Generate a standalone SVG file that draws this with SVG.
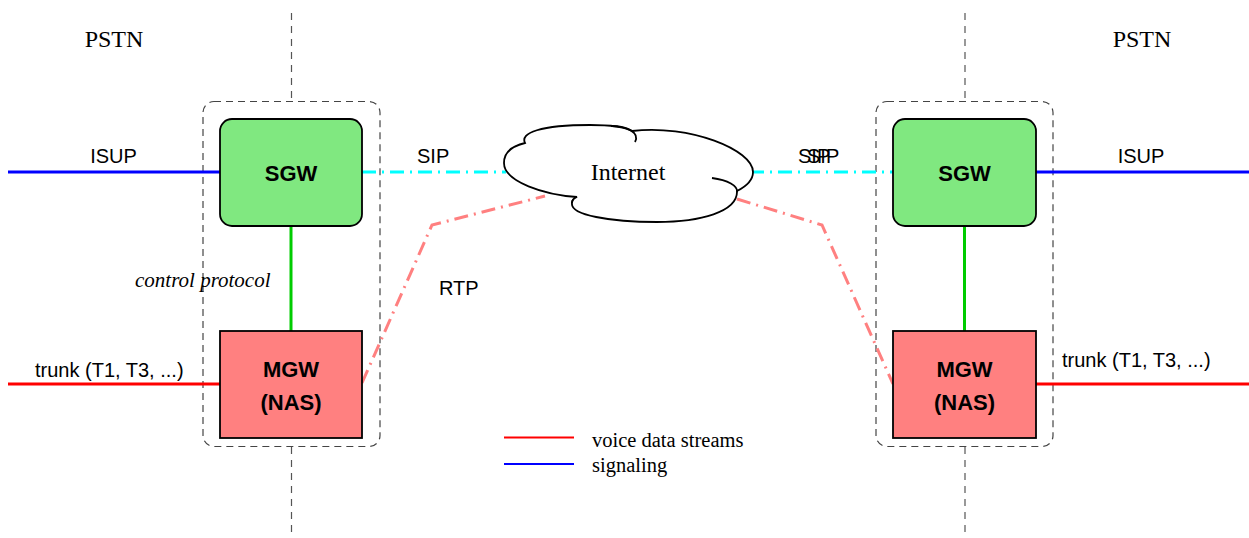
<svg xmlns="http://www.w3.org/2000/svg" width="1249" height="538" viewBox="0 0 1249 538">
<style>
.serif{font-family:"Liberation Serif","Times New Roman",serif;fill:#000}
.sans{font-family:"Liberation Sans",Arial,sans-serif;fill:#000}
.bold{font-family:"Liberation Sans",Arial,sans-serif;font-weight:bold;font-size:22px;fill:#000;text-anchor:middle}
.vdash{stroke:#555;stroke-width:1.2;stroke-dasharray:7,6;fill:none}
.box{stroke:#444;stroke-width:1.2;stroke-dasharray:7,5;fill:none}
.sgw{fill:#80e880;stroke:#000;stroke-width:1.8}
.mgw{fill:#ff8080;stroke:#000;stroke-width:1.8}
.sig{stroke:#0000ff;stroke-width:3;fill:none}
.voice{stroke:#ff0000;stroke-width:3;fill:none}
.ctrl{stroke:#00cc00;stroke-width:3;fill:none}
.sip{stroke:#00ffff;stroke-width:3;fill:none;stroke-dasharray:14,6,2,6}
.rtp{stroke:#ff8080;stroke-width:3;fill:none;stroke-dasharray:14,6,2,6}
.cloud{stroke:#000;stroke-width:1.8;fill:#fff}
</style>

<g id="boundaries">
<line class="vdash" x1="291.5" y1="13" x2="291.5" y2="101"/>
<line class="vdash" x1="291.5" y1="447" x2="291.5" y2="538"/>
<line class="vdash" x1="965" y1="13" x2="965" y2="101"/>
<line class="vdash" x1="965" y1="447" x2="965" y2="538"/>
<rect class="box" x="203" y="101.5" width="177" height="345" rx="11"/>
<rect class="box" x="876" y="101.5" width="177" height="345" rx="11"/>
</g>

<g id="connectors">
<line class="sig" x1="8" y1="172" x2="220" y2="172"/>
<line class="sig" x1="1036" y1="172" x2="1249" y2="172"/>
<line class="voice" x1="8" y1="384" x2="220" y2="384"/>
<line class="voice" x1="1036" y1="384" x2="1249" y2="384"/>
<line class="ctrl" x1="291" y1="226" x2="291" y2="331"/>
<line class="ctrl" x1="964.5" y1="226" x2="964.5" y2="331"/>
<line class="sip" x1="362" y1="172" x2="506" y2="172"/>
<line class="sip" x1="750" y1="172" x2="893" y2="172"/>
<polyline class="rtp" points="362,383 432,225 545,196"/>
<polyline class="rtp" points="737,199 822,225 893,384"/>
</g>

<g id="internet">
<path class="cloud" d="M 577,197 C 545,195 504,182 504,163 C 504,152 512,146 525,143 C 520,133 540,125 590,125 C 610,125 625,127 632,131 C 690,124 753,150 753,172 C 753,180 747,186 737,191 C 738,212 700,222 657,222 C 610,222 570,215 572,203 C 572,200 574,198 577,197 Z"/>
<path class="cloud" fill="none" d="M 611,126 C 628,126 640,133 635,142" style="fill:none"/>
<path class="cloud" style="fill:none" d="M 712,178 C 728,180 738,186 737,192"/>
<path class="cloud" style="fill:none" d="M 577,197 C 574,198 572,200 572,203"/>
<text class="serif" x="628" y="180" font-size="24" text-anchor="middle">Internet</text>
</g>

<g id="sgw-left">
<rect class="sgw" x="220" y="119" width="142" height="107" rx="12"/>
<text class="bold" x="291" y="181">SGW</text>
</g>
<g id="mgw-left">
<rect class="mgw" x="220" y="331" width="142" height="107"/>
<text class="bold" x="291" y="377" font-size="21">MGW</text>
<text class="bold" x="291" y="410" font-size="21">(NAS)</text>
</g>
<g id="sgw-right">
<rect class="sgw" x="893" y="119" width="143" height="107" rx="12"/>
<text class="bold" x="964.5" y="181">SGW</text>
</g>
<g id="mgw-right">
<rect class="mgw" x="893" y="331" width="143" height="107"/>
<text class="bold" x="964.5" y="377" font-size="21">MGW</text>
<text class="bold" x="964.5" y="410" font-size="21">(NAS)</text>
</g>

<g id="labels">
<text class="serif" x="114" y="47" font-size="24" text-anchor="middle">PSTN</text>
<text class="serif" x="1142" y="47" font-size="24" text-anchor="middle">PSTN</text>
<text class="sans" x="113.5" y="163" font-size="20" text-anchor="middle">ISUP</text>
<text class="sans" x="1141" y="163" font-size="20" text-anchor="middle">ISUP</text>
<text class="sans" x="417" y="163" font-size="20">SIP</text>
<text class="sans" x="798" y="163" font-size="20">SIP</text>
<text class="sans" x="807" y="163" font-size="20">SIP</text>
<text class="sans" x="439" y="295" font-size="20">RTP</text>
<text class="serif" x="135" y="286.5" font-size="21" font-style="italic">control protocol</text>
<text class="sans" x="35" y="377" font-size="20">trunk (T1, T3, ...)</text>
<text class="sans" x="1062" y="367" font-size="20">trunk (T1, T3, ...)</text>
</g>

<g id="legend">
<line stroke="#ff0000" stroke-width="2" x1="504" y1="437.5" x2="574" y2="437.5"/>
<line stroke="#0000ff" stroke-width="2" x1="504" y1="464" x2="574" y2="464"/>
<text class="serif" x="592" y="446.5" font-size="20.5">voice data streams</text>
<text class="serif" x="592" y="471.5" font-size="20.5">signaling</text>
</g>
</svg>
